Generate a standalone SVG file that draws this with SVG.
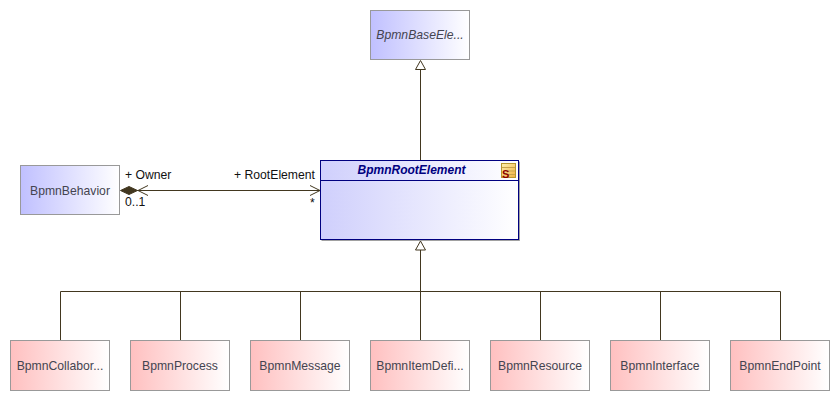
<svg xmlns="http://www.w3.org/2000/svg" width="840" height="401" viewBox="0 0 840 401">
<style>
text{font-family:"Liberation Sans",Arial,sans-serif;font-size:12.2px}
.n{fill:#444450;text-anchor:middle}
.l{fill:#111}
.b{fill:url(#blue);stroke:#999;stroke-width:1}
.r{fill:url(#red);stroke:#999;stroke-width:1}
.c{fill:none;stroke:#42371f;stroke-width:1}
</style>
<defs>
<linearGradient id="blue"><stop offset="0" stop-color="#c0c0ff"/><stop offset="1" stop-color="#fff"/></linearGradient>
<linearGradient id="red"><stop offset="0" stop-color="#ffc0c0"/><stop offset="1" stop-color="#fff"/></linearGradient>
<linearGradient id="root"><stop offset="0" stop-color="#cfcffc"/><stop offset="1" stop-color="#fff"/></linearGradient>
<linearGradient id="ic" x1="0" y1="0" x2="1" y2="1"><stop offset="0" stop-color="#fff2b0"/><stop offset="1" stop-color="#f0b040"/></linearGradient>
</defs>
<g id="connectors">
<path class="c" d="M420.500 160V69.500"/>
<path class="c" d="M420.500 60.500l-5 9h10z"/>
<path class="c" d="M420.500 291.500V250M420.500 241l-5 9h10z"/>
<path class="c" d="M60.500 340.500V291.500H780.500V340.500M180.500 291.500V340.500M300.500 291.500V340.500M420.500 291.500V340.500M540.500 291.500V340.500M660.500 291.500V340.500"/>
<path class="c" d="M137 190.500H320"/>
<path d="M120.500 190.500l8.500-4 8.500 4-8.500 4z" fill="#42371f" stroke="#42371f"/>
<path class="c" d="M148 185.500l-10 5 10 5M310 185.500l10 5-10 5"/>
<text class="l" x="125" y="179">+ Owner</text>
<text class="l" x="125" y="206">0..1</text>
<text class="l" x="234" y="179">+ RootElement</text>
<text class="l" x="310" y="207">*</text>
</g>
<g id="BpmnBaseElement"><rect class="b" x="370.500" y="10.500" width="99" height="49"/><text class="n" x="420" y="39" font-style="italic">BpmnBaseEle...</text></g>
<g id="BpmnBehavior"><rect class="b" x="20.500" y="165.500" width="99" height="49"/><text class="n" x="70" y="195">BpmnBehavior</text></g>
<g id="BpmnRootElement">
<rect x="320.500" y="160.500" width="198" height="79" fill="url(#root)" stroke="#000080"/>
<path d="M321 180.500H518" stroke="#000080" fill="none"/>
<path d="M519.500 161.500V240.500H321.500" stroke="#444" stroke-opacity=".5" fill="none"/>
<text x="411.500" y="174" text-anchor="middle" font-weight="bold" font-style="italic" fill="#000080" style="font-size:12px">BpmnRootElement</text>
<rect x="501.500" y="163.500" width="14" height="14" fill="url(#ic)" stroke="#b8962e"/>
<path d="M502 167.500H515M508 171H515M508 174.500H515" stroke="#c9a24a" fill="none"/>
<text x="502" y="178" font-weight="bold" fill="#8b0000" style="font-size:11px">S</text>
</g>
<g id="BpmnCollaboration"><rect class="r" x="10.500" y="340.500" width="99" height="50"/><text class="n" x="60" y="370">BpmnCollabor...</text></g>
<g id="BpmnProcess"><rect class="r" x="130.500" y="340.500" width="99" height="50"/><text class="n" x="180" y="370">BpmnProcess</text></g>
<g id="BpmnMessage"><rect class="r" x="250.500" y="340.500" width="99" height="50"/><text class="n" x="300" y="370">BpmnMessage</text></g>
<g id="BpmnItemDefinition"><rect class="r" x="370.500" y="340.500" width="99" height="50"/><text class="n" x="420" y="370">BpmnItemDefi...</text></g>
<g id="BpmnResource"><rect class="r" x="490.500" y="340.500" width="99" height="50"/><text class="n" x="540" y="370">BpmnResource</text></g>
<g id="BpmnInterface"><rect class="r" x="610.500" y="340.500" width="99" height="50"/><text class="n" x="660" y="370">BpmnInterface</text></g>
<g id="BpmnEndPoint"><rect class="r" x="730.500" y="340.500" width="99" height="50"/><text class="n" x="780" y="370">BpmnEndPoint</text></g>
</svg>
